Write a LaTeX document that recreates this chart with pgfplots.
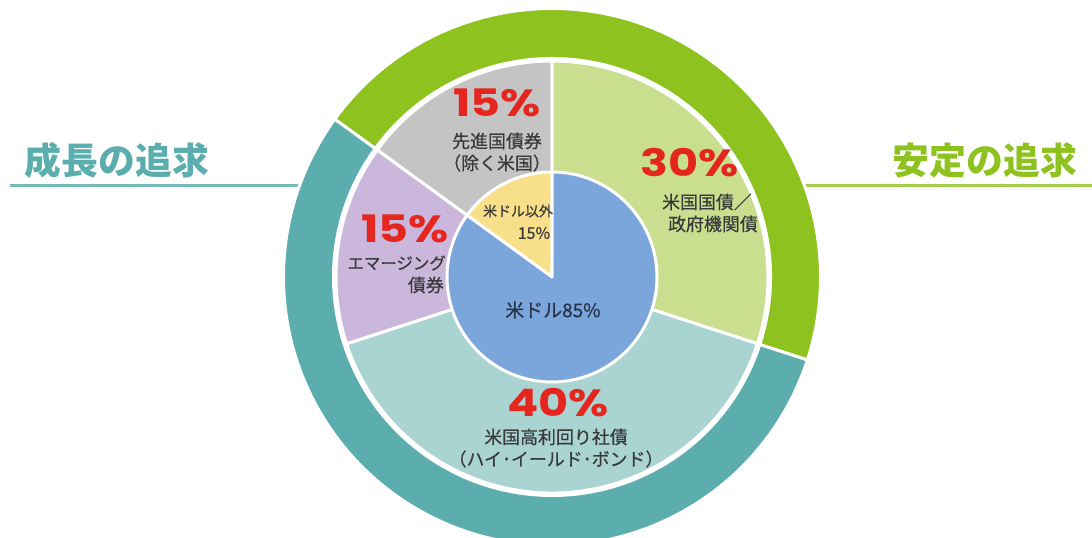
\documentclass[border=0pt]{standalone}
\usepackage{fontspec}
\usepackage{pgfplots}
\usepackage{pgfplotstable}
\pgfplotsset{compat=1.18}
\newfontfamily\jp{Noto Sans CJK JP}
\newfontfamily\jpm{Noto Sans CJK JP}[FakeBold=0.5]
\newfontfamily\pct{Poppins}
\definecolor{cogreen}{HTML}{8EC31F}
\definecolor{coteal}{HTML}{5BAEAD}
\definecolor{cmgreen}{HTML}{C9DF8F}
\definecolor{cmteal}{HTML}{A9D4D2}
\definecolor{cpurple}{HTML}{CAB7DB}
\definecolor{cgray}{HTML}{C4C4C4}
\definecolor{cblue}{HTML}{7BA6DC}
\definecolor{cyellow}{HTML}{F8E08A}
\definecolor{cred}{HTML}{E4261F}
\definecolor{ctext}{HTML}{3A3A3A}
\definecolor{cnavy}{HTML}{25324A}

% outer ring: stability / growth
\pgfplotstableread{
share colour
45 cogreen
55 coteal
}\outerring
% middle ring: asset classes
\pgfplotstableread{
share colour
15 cgray
30 cmgreen
40 cmteal
15 cpurple
}\midring
% inner pie: currency
\pgfplotstableread{
share colour
15 cyellow
85 cblue
}\innerpie

\def\cx{552}\def\cy{260}\def\startang{144}
\newcommand\ringwedge[5]{%
  \fill[#5, draw=white, line width=3bp, line join=round]
    (axis cs:\cx,\cy) ++(#1:#4bp) arc[start angle=#1, end angle=#2, radius=#4bp]
    -- ++(#2+180:#4bp-#3bp) arc[start angle=#2, end angle=#1, radius=#3bp] -- cycle;}
% draw a whole ring from a table, clockwise from \startang
\newcommand\drawring[3]{%
  \pgfplotstablegetrowsof{#1}\pgfmathtruncatemacro\nrows{\pgfplotsretval-1}%
  \def\acc{0}%
  \pgfplotsforeachungrouped \i in {0,...,\nrows}{%
    \pgfplotstablegetelem{\i}{share}\of{#1}\let\sh=\pgfplotsretval
    \pgfplotstablegetelem{\i}{colour}\of{#1}\let\co=\pgfplotsretval
    \pgfmathsetmacro\aa{\startang-3.6*\acc}%
    \pgfmathsetmacro\acc{\acc+\sh}%
    \pgfmathsetmacro\bb{\startang-3.6*\acc}%
    \edef\cmd{\noexpand\ringwedge{\aa}{\bb}{#2}{#3}{\co}}\cmd
  }}

\begin{document}
\begin{tikzpicture}
\begin{axis}[scale only axis, width=1092bp, height=537bp,
  xmin=0, xmax=1092, ymin=0, ymax=537, hide axis, clip=true]
% guide lines
\draw[coteal!85, line width=3bp] (axis cs:10,351) -- (axis cs:320,351);
\draw[cogreen!80, line width=3bp] (axis cs:790,351) -- (axis cs:1092,351);
\drawring{\outerring}{218.5}{268.5}
\drawring{\midring}{0}{216}
\drawring{\innerpie}{0}{105}
% headings
\node[font=\jp\bfseries\fontsize{37}{40}\selectfont, text=coteal] at (axis cs:117,377) {成長の追求};
\node[font=\jp\bfseries\fontsize{37}{40}\selectfont, text=cogreen] at (axis cs:985,377) {安定の追求};
% percentages
\tikzset{pc/.style={font=\pct\bfseries\fontsize{38}{40}\selectfont, text=cred, xscale=1.22, inner sep=0pt},
         lb/.style={font=\jpm\fontsize{18}{20}\selectfont, text=ctext, inner sep=0pt}}
\node[pc] at (axis cs:497,434) {15\%};
\node[lb] at (axis cs:497,396) {先進国債券};
\node[lb] at (axis cs:497,374) {（除く米国）};
\node[pc] at (axis cs:690,374) {30\%};
\node[lb, anchor=east] at (axis cs:752,335) {米国国債／};
\node[lb, anchor=east] at (axis cs:758,313) {政府機関債};
\node[pc] at (axis cs:405,308) {15\%};
\node[lb, font=\jpm\fontsize{16.5}{18}\selectfont, anchor=east] at (axis cs:446,274) {エマージング};
\node[lb, anchor=east] at (axis cs:444,252) {債券};
\node[pc] at (axis cs:558,134) {40\%};
\node[lb] at (axis cs:556,100) {米国高利回り社債};
\node[lb] at (axis cs:556,78) {（ハイ･イールド･ボンド）};
\node[lb, font=\jpm\fontsize{14}{16}\selectfont] at (axis cs:518,326) {米ドル以外};
\node[lb, font=\jpm\fontsize{16}{18}\selectfont] at (axis cs:534,304) {15\%};
\node[lb, text=cnavy, font=\jpm\fontsize{19}{21}\selectfont] at (axis cs:553,227) {米ドル85\%};
\end{axis}
\pgfresetboundingbox
\useasboundingbox (current axis.south west) rectangle (current axis.north east);
\end{tikzpicture}
\end{document}
